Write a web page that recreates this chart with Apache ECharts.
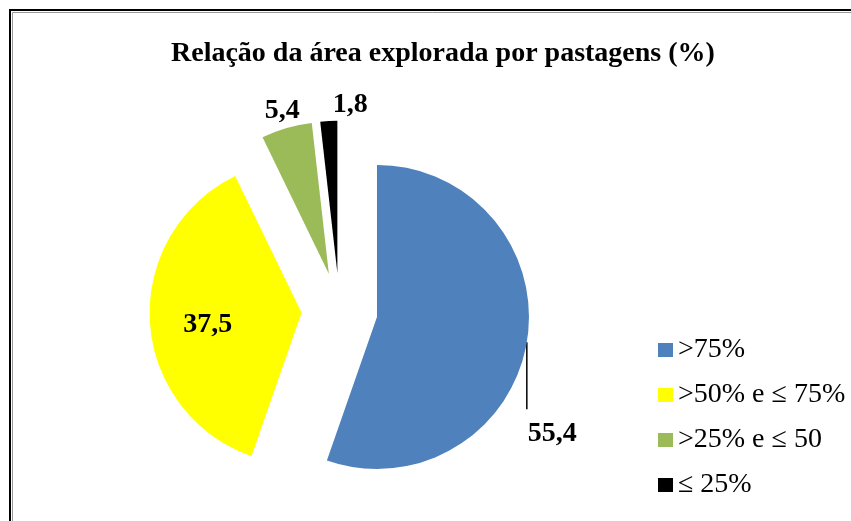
<html>
<head>
    <meta charset="utf-8">
    <script src="https://cdn.jsdelivr.net/npm/echarts@6/dist/echarts.min.js"></script>
    <style>
        body { margin: 0; background: #fff; }
        #main { width: 851px; height: 521px; }
    </style>
</head>
<body>
    <div id="main"></div>
    <script>
        var categories = ['>75%', '>50% e \u2264 75%', '>25% e \u2264 50', '\u2264 25%'];
        var values = [55.4, 37.5, 5.4, 1.8];
        var colors = ['#4F81BD', '#FFFF00', '#9BBB59', '#000000'];

        // pie geometry
        var CX = 339.5, CY = 310.6, R = 152, OFF = 38;

        var total = values.reduce(function (a, b) { return a + b; }, 0);
        var mids = [];
        var acc = 0;
        for (var i = 0; i < values.length; i++) {
            var ang = (acc + values[i] / 2) / total * 2 * Math.PI;
            mids.push([Math.sin(ang), -Math.cos(ang)]);
            acc += values[i];
        }
        function at(i, t) {
            return [CX + t * mids[i][0], CY + t * mids[i][1]];
        }

        var chart = echarts.init(document.getElementById('main'));

        // slices (exploded)
        var pieData = [];
        // same slices, invisible, carrying the value labels
        var labelData = [];
        for (var i = 0; i < values.length; i++) {
            pieData.push({
                name: categories[i],
                value: values[i],
                selected: true,
                itemStyle: { color: colors[i] }
            });
            labelData.push({
                name: categories[i],
                value: values[i],
                itemStyle: { color: 'rgba(0,0,0,0)' },
                labelLine: { show: i == 0 }
            });
        }

        var option = {
            animation: false,
            color: colors,
            title: {
                text: 'Relação da área explorada por pastagens (%)',
                left: 166,
                top: 35,
                textStyle: {
                    fontFamily: 'Liberation Serif',
                    fontWeight: 'bold',
                    fontSize: 28,
                    color: '#000'
                }
            },
            legend: {
                orient: 'vertical',
                left: 653,
                top: 331,
                itemWidth: 15,
                itemHeight: 14,
                itemGap: 17,
                icon: 'rect',
                selectedMode: false,
                textStyle: {
                    fontFamily: 'Liberation Serif',
                    fontSize: 28,
                    color: '#000'
                },
                data: categories
            },
            graphic: [
                { type: 'rect', shape: { x: 10, y: 10, width: 900, height: 600 },
                  style: { fill: 'none', stroke: '#000', lineWidth: 2 } },
                { type: 'polyline', shape: { points: [[12.5, 600], [12.5, 12.5], [900, 12.5]] },
                  style: { fill: 'none', stroke: '#999', lineWidth: 1 } }
            ],
            series: [{
                type: 'pie',
                center: [CX, CY],
                radius: R,
                startAngle: 90,
                selectedMode: 'multiple',
                selectedOffset: OFF,
                label: { show: false },
                labelLine: { show: false },
                emphasis: { disabled: true },
                data: pieData
            }, {
                type: 'pie',
                silent: true,
                center: [CX, CY],
                radius: R,
                startAngle: 90,
                avoidLabelOverlap: false,
                label: {
                    show: true,
                    formatter: function (p) { return String(p.value).replace('.', ','); },
                    fontFamily: 'Liberation Serif',
                    fontWeight: 'bold',
                    fontSize: 28,
                    color: '#000'
                },
                labelLine: {
                    lineStyle: { color: '#000', width: 1.5 }
                },
                emphasis: { disabled: true },
                labelLayout: function (p) {
                    var i = p.dataIndex;
                    if (i == 0) {
                        var a = at(0, R + OFF);
                        return {
                            x: a[0] + 1, y: a[1] + 77,
                            align: 'left', verticalAlign: 'top',
                            labelLinePoints: [a, [a[0], a[1] + 67], [a[0], a[1] + 67]]
                        };
                    }
                    if (i == 1) {
                        var b = at(1, OFF + 94);
                        return { x: b[0], y: b[1] + 7, align: 'center', verticalAlign: 'middle' };
                    }
                    if (i == 2) {
                        var c = at(2, R + OFF + 19);
                        return { x: c[0] + 1, y: c[1] + 1, align: 'center', verticalAlign: 'middle' };
                    }
                    var d = at(3, R + OFF + 16);
                    return { x: d[0] + 5, y: d[1], align: 'left', verticalAlign: 'middle' };
                },
                data: labelData
            }]
        };

        chart.setOption(option);

        window.onresize = function () {
            chart.resize();
        }
    </script>
</body>
</html>
